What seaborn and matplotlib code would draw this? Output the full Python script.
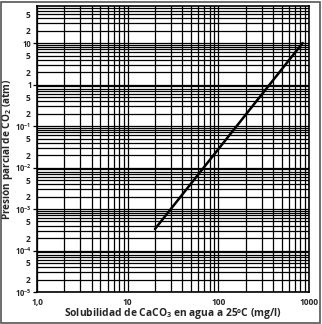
import numpy as np
import pandas as pd
import matplotlib
matplotlib.use("Agg")
import matplotlib.pyplot as plt
import matplotlib.ticker as mticker
import seaborn as sns

# datos (escala log-log)
solubilidad = [20, 850]          # mg/l
presion_co2 = [3.3e-4, 10]       # atm

x_ticks = [1, 10, 100, 1000]
x_labels = ["1,0", "10", "100", "1000"]
y_major = [1e-5, 1e-4, 1e-3, 1e-2, 1e-1, 1, 10]
y_major_labels = [r"$10^{-5}$", r"$10^{-4}$", r"$10^{-3}$", r"$10^{-2}$", r"$10^{-1}$", "1", "10"]

df = pd.DataFrame({"x": solubilidad, "y": presion_co2})

sns.set_style("white")
plt.rcParams["font.family"] = ["Open Sans", "DejaVu Sans"]
plt.rcParams["mathtext.fontset"] = "custom"
plt.rcParams["mathtext.rm"] = "Open Sans:bold"
plt.rcParams["mathtext.bf"] = "Open Sans:bold"
plt.rcParams["mathtext.default"] = "bf"

fig = plt.figure(figsize=(3.22, 3.24), dpi=100)
ax = fig.add_axes([37 / 322, 1 - 292 / 324, 272 / 322, 286 / 324])

sns.lineplot(data=df, x="x", y="y", ax=ax, color="black", linewidth=1.8)

ax.set_xscale("log")
ax.set_yscale("log")
ax.set_xlim(1, 1000)
ax.set_ylim(1e-5, 78)

# rejilla tipo papel logaritmico
ax.xaxis.set_major_locator(mticker.FixedLocator(x_ticks))
ax.xaxis.set_minor_locator(mticker.LogLocator(base=10, subs=np.arange(2, 10)))
ax.yaxis.set_major_locator(mticker.FixedLocator(y_major))
ax.yaxis.set_minor_locator(mticker.LogLocator(base=10, subs=np.arange(2, 10), numticks=20))
ax.grid(True, which="both", color="black", linewidth=0.9)

ax.set_xticklabels(x_labels, fontsize=6, fontweight="bold")
ax.set_yticklabels(y_major_labels, fontsize=6, fontweight="bold")

def minor_fmt(v, pos):
    m = round(v / 10 ** np.floor(np.log10(v) + 1e-9))
    return str(m) if m in (2, 5) else ""

ax.yaxis.set_minor_formatter(mticker.FuncFormatter(minor_fmt))
ax.xaxis.set_minor_formatter(mticker.NullFormatter())
ax.tick_params(axis="y", which="major", left=True, length=3, width=0.9, color="black",
               labelsize=5.5, pad=1)
ax.tick_params(axis="y", which="minor", left=False, labelsize=6, pad=3)
ax.tick_params(axis="x", which="both", bottom=False, pad=0.5)
for lbl in ax.get_yticklabels(minor=True):
    lbl.set_fontweight("bold")

for s in ax.spines.values():
    s.set_color("black")
    s.set_linewidth(1.2)

ax.set_xlabel("Solubilidad de CaCO$_3$ en agua a 25ºC (mg/l)", fontsize=7.4,
              fontweight="bold")
ax.xaxis.set_label_coords(0.5, -0.05)
ax.set_ylabel("Presión parcial de CO$_2$ (atm)", fontsize=7.2, fontweight="bold")
ax.yaxis.set_label_coords(-0.08, 0.5)

# marco de la figura
fig.patches.append(plt.Rectangle((0.004, 0.004), 0.99, 0.99, transform=fig.transFigure,
                                 fill=False, edgecolor="#555555", linewidth=1.2))

fig.savefig("out.png", dpi=100)
